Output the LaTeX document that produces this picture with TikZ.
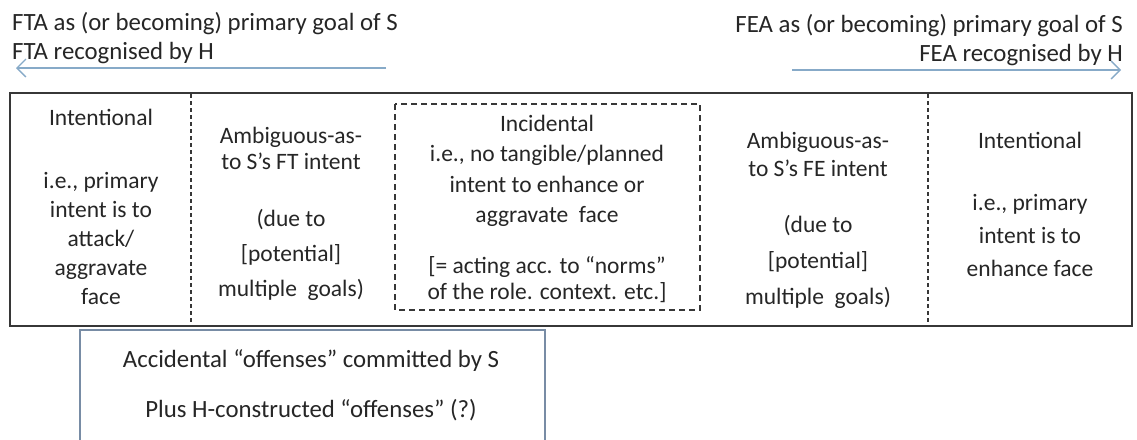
\documentclass[tikz,border=0pt]{standalone}
\usepackage{fontspec}
\setmainfont{Carlito}
\usetikzlibrary{positioning,arrows.meta}
\definecolor{arrowblue}{RGB}{135,170,200}
\definecolor{framegrey}{RGB}{55,55,55}
\definecolor{slateblue}{RGB}{120,140,165}
\tikzset{
  txt/.style={align=center, inner sep=0pt, text=black!85, font=\fontsize{23.5}{#1}\selectfont},
  txt/.default=29,
  bigtxt/.style={txt, font=\fontsize{24.8}{29}\selectfont},
  scale arrow/.style={->, arrowblue, line width=1.4pt, >={Straight Barb[length=9pt,width=18pt]}},
  divider/.style={framegrey, line width=1.3pt, dash pattern=on 4pt off 3pt},
}
\begin{document}
\begin{tikzpicture}[x=1pt,y=-1pt]
	\useasboundingbox[fill=white] (0,0) rectangle (1137,439);
	% heading texts and scale arrows
	\node[bigtxt, align=left, anchor=west] (fta) at (12,38) {FTA as (or becoming) primary goal of S\\FTA recognised by H};
	\node[bigtxt, align=right, anchor=east] (fea) at (1123,40) {FEA as (or becoming) primary goal of S\\FEA recognised by H};
	\coordinate (ftastart) at (386,68);
	\coordinate (ftaend) at (16,68);
	\coordinate (feastart) at (792,70);
	\coordinate (feaend) at (1121,70);
	\draw[scale arrow] (ftastart) -- (ftaend);
	\draw[scale arrow] (feastart) -- (feaend);
	% main box
	\draw[framegrey, line width=2pt] (10,93) rectangle (1132,326);
	\draw[divider] (191,94) -- (191,325);
	\draw[divider] (928,94) -- (928,325);
	\draw[framegrey, line width=1.3pt, dash pattern=on 6pt off 4pt] (395,104) rectangle (700,310);
	% cells
	\node[txt] (int1) at (101,207) {Intentional\\[34pt]i.e., primary\\intent is to\\attack/\\aggravate\\face};
	\node[txt=26] (amb1) at (291,148) {Ambiguous-as-\\to S’s FT intent};
	\node[txt=35] (due1) at (291,255) {(due to\\{[}potential{]}\\multiple\ \ goals)};
	\node[txt=30.5] (inc) at (547,171) {Incidental\\i.e., no tangible/planned\\intent to enhance or\\aggravate\ \ face};
	\node[txt=26] (norms) at (547,280) {{[}= acting acc. to “norms”\\of the role. context. etc.{]}};
	\node[txt=28] (amb2) at (818,154) {Ambiguous-as-\\to S’s FE intent};
	\node[txt=36] (due2) at (818,262) {(due to\\{[}potential{]}\\multiple\ \ goals)};
	\node[txt] (int2) at (1030,140) {Intentional};
	\node[txt=33] (enh) at (1030,235) {i.e., primary\\intent is to\\enhance face};
	% accidental box
	\draw[slateblue, line width=1.3pt] (80,460) -- (80,330) -- (545,330) -- (545,460);
	\node[bigtxt] (acc) at (311,361) {Accidental “offenses” committed by S};
	\node[bigtxt] (plus) at (311,410) {Plus H-constructed “offenses” (?)};
\end{tikzpicture}
\end{document}
